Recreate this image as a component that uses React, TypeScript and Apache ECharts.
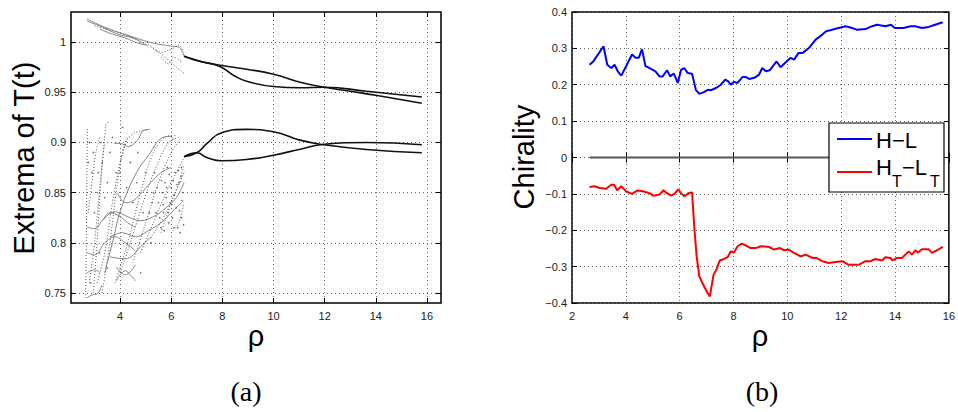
import React, { useEffect, useRef } from "react";
import * as echarts from "echarts";

// ---------- Panel (a): extrema of T(t) ----------
const aXTicks = [4, 6, 8, 10, 12, 14, 16];
const aYTicks = [0.75, 0.8, 0.85, 0.9, 0.95, 1];

// smooth branches (rho > 6.5)
const upperA: number[][] = [[6.5, 0.986], [7.1, 0.981], [7.9, 0.977], [8.95, 0.973], [10, 0.968], [11.04, 0.96], [12, 0.955], [13, 0.951], [14, 0.947], [15.8, 0.939]];
const upperB: number[][] = [[6.5, 0.986], [7.13, 0.981], [7.9, 0.9757], [8.5, 0.966], [8.95, 0.961], [10, 0.9557], [11.04, 0.9545], [12, 0.955], [13.64, 0.951], [15.8, 0.9453]];
const lowerC: number[][] = [[6.5, 0.8857], [7.0, 0.8897], [7.4, 0.899], [7.97, 0.9097], [8.95, 0.913], [10, 0.9107], [11.04, 0.9023], [11.9, 0.898], [13.64, 0.893], [15.8, 0.8897]];
const lowerD: number[][] = [[6.5, 0.8857], [7.0, 0.8897], [7.39, 0.885], [7.97, 0.8817], [8.95, 0.883], [10, 0.8873], [11.04, 0.8933], [11.9, 0.898], [13.64, 0.9], [15.8, 0.8977]];

// chaotic region (rho < 6.5), traced faint curves
const cloudSolid: number[][][] = [
  [[3.77, 0.899], [4.0, 0.899], [4.31, 0.896], [4.7, 0.903], [4.9, 0.912], [5.16, 0.913]],
  [[3.4, 0.77], [3.7, 0.8], [4.05, 0.835], [4.64, 0.87], [5.16, 0.889], [5.55, 0.903], [5.94, 0.906], [6.1, 0.903]],
  [[2.7, 0.816], [3.0, 0.814], [3.3, 0.822], [3.6, 0.83], [4.0, 0.826], [4.4, 0.818], [4.6, 0.816]],
  [[2.7, 0.79], [3.0, 0.788], [3.4, 0.8], [3.8, 0.806], [4.2, 0.8], [4.6, 0.792]],
  [[3.3, 0.822], [3.8, 0.831], [4.3, 0.826], [4.8, 0.822], [5.3, 0.826], [5.8, 0.835], [6.2, 0.845], [6.5, 0.86]],
  [[3.6, 0.806], [4.1, 0.81], [4.6, 0.806], [5.1, 0.812], [5.6, 0.82], [6.0, 0.83], [6.4, 0.84]],
  [[3.9, 0.85], [4.2, 0.84], [4.45, 0.841], [4.77, 0.848], [5.2, 0.86], [5.6, 0.87], [6.0, 0.875]],
  [[3.85, 0.762], [4.0, 0.768], [4.2, 0.772], [4.4, 0.768], [4.6, 0.762]],
  [[3.85, 0.776], [4.2, 0.768], [4.6, 0.778]],
  [[2.7, 0.745], [2.9, 0.748], [3.1, 0.749], [3.3, 0.758]],
  [[2.7, 0.77], [3.0, 0.773], [3.2, 0.77]],
  [[3.6, 0.786], [4.2, 0.784], [4.8, 0.796], [5.2, 0.806]],
  [[2.7, 1.023], [3.2, 1.017], [3.8, 1.011], [4.4, 1.006], [5.0, 1.001], [5.5, 0.998], [6.0, 0.996], [6.3, 0.995], [6.5, 0.986]],
  [[2.7, 1.021], [3.3, 1.015], [3.9, 1.008], [4.5, 1.004], [4.9, 0.999], [5.1, 0.996]],
  [[3.2, 1.013], [3.7, 1.008], [4.2, 1.004], [4.7, 0.999], [5.0, 0.997]],
];
const cloudDotted: number[][][] = [
  [[2.65, 0.745], [2.68, 0.8], [2.7, 0.86], [2.72, 0.915]],
  [[2.95, 0.75], [3.1, 0.8], [3.25, 0.86], [3.45, 0.918], [3.55, 0.92]],
  [[3.3, 0.75], [3.6, 0.8], [3.9, 0.86], [4.2, 0.9], [4.6, 0.91], [5.1, 0.912]],
  [[3.8, 0.76], [4.3, 0.8], [4.8, 0.85], [5.3, 0.89], [5.8, 0.906], [6.2, 0.907]],
  [[4.5, 0.78], [5.0, 0.82], [5.5, 0.86], [6.0, 0.89], [6.4, 0.905]],
  [[5.2, 0.805], [5.8, 0.83], [6.5, 0.87]],
  [[6.0, 0.81], [6.3, 0.82], [6.5, 0.84]],
  [[2.8, 0.76], [3.0, 0.8], [3.15, 0.84], [3.3, 0.88], [3.4, 0.9]],
  [[3.1, 0.76], [3.4, 0.79], [3.7, 0.84], [4.0, 0.88], [4.3, 0.905]],
  [[4.0, 0.77], [4.4, 0.8], [4.9, 0.84], [5.4, 0.875], [5.9, 0.9], [6.3, 0.905]],
  [[4.8, 0.79], [5.3, 0.82], [5.8, 0.85], [6.2, 0.87], [6.5, 0.885]],
  [[5.6, 0.81], [6.0, 0.84], [6.3, 0.86], [6.5, 0.878]],
  [[2.75, 0.83], [2.9, 0.86], [3.05, 0.89], [3.2, 0.905]],
  [[5.0, 1.0], [5.4, 0.992], [5.8, 0.984], [6.2, 0.975], [6.5, 0.969]],
  [[5.2, 0.995], [5.6, 0.99], [6.0, 0.993], [6.3, 0.997], [6.5, 0.99]],
  [[5.6, 0.985], [5.9, 0.978], [6.1, 0.985], [6.4, 0.98]],
  [[3.0, 1.016], [3.6, 1.012], [4.2, 1.007], [4.8, 1.001]],
];
const cloudDots: number[][] = [
  [5.6, 0.815], [5.7, 0.83], [5.8, 0.845], [5.9, 0.82], [6.0, 0.855], [6.1, 0.815], [6.2, 0.835], [6.3, 0.86],
  [6.4, 0.825], [6.45, 0.85], [5.75, 0.86], [5.95, 0.84], [6.15, 0.87], [6.35, 0.81], [5.5, 0.84], [5.65, 0.85],
  [6.05, 0.825], [6.25, 0.815], [6.4, 0.875], [5.85, 0.875], [3.0, 0.83], [3.1, 0.85], [2.9, 0.87], [3.5, 0.86],
  [3.3, 0.88], [4.4, 0.88], [4.7, 0.89], [5.3, 0.85], [5.0, 0.87], [4.0, 0.87], [2.8, 0.9], [3.6, 0.89],
  [4.9, 0.83], [4.5, 0.84], [5.4, 0.83], [5.2, 0.8], [3.2, 0.79], [3.5, 0.775], [4.8, 0.77], [2.85, 0.76],
  [5.55, 0.825], [5.62, 0.862], [5.72, 0.812], [5.82, 0.855], [5.92, 0.868], [6.02, 0.838], [6.12, 0.848], [6.22, 0.858],
  [6.32, 0.832], [6.42, 0.842], [6.48, 0.818], [5.68, 0.838], [5.88, 0.83], [6.08, 0.862], [6.28, 0.872], [6.38, 0.866],
  [5.45, 0.855], [5.35, 0.87], [5.25, 0.84], [5.15, 0.83], [4.65, 0.86], [4.25, 0.855], [3.85, 0.87], [3.4, 0.845],
  [3.15, 0.87], [2.95, 0.89], [3.7, 0.905], [4.1, 0.915], [2.75, 0.88], [3.25, 0.9],
];

// ---------- Panel (b): chirality ----------
const hlPoints: number[][] = [
  [2.65, 0.255], [2.78, 0.263], [3.17, 0.306], [3.31, 0.255], [3.46, 0.246], [3.58, 0.255], [3.7, 0.237], [3.83, 0.225],
  [4.01, 0.251], [4.23, 0.283], [4.36, 0.274], [4.48, 0.274], [4.6, 0.298], [4.73, 0.251], [4.88, 0.246], [5.1, 0.237],
  [5.25, 0.223], [5.37, 0.223], [5.53, 0.24], [5.65, 0.223], [5.78, 0.231], [5.93, 0.205], [6.05, 0.241], [6.17, 0.246],
  [6.3, 0.232], [6.46, 0.23], [6.6, 0.186], [6.73, 0.175], [6.88, 0.179], [7.04, 0.186], [7.16, 0.185], [7.35, 0.191],
  [7.53, 0.2], [7.69, 0.214], [7.81, 0.209], [7.9, 0.2], [8.02, 0.208], [8.15, 0.205], [8.33, 0.221], [8.46, 0.221],
  [8.58, 0.216], [8.77, 0.219], [8.95, 0.228], [9.07, 0.246], [9.2, 0.237], [9.35, 0.24], [9.6, 0.264], [9.75, 0.248],
  [9.91, 0.26], [10.12, 0.274], [10.25, 0.269], [10.41, 0.287], [10.56, 0.287], [10.8, 0.301], [11.05, 0.324], [11.3, 0.338],
  [11.44, 0.347], [11.6, 0.35], [11.79, 0.354], [12.16, 0.361], [12.41, 0.356], [12.59, 0.351], [12.9, 0.353], [13.15, 0.361],
  [13.33, 0.365], [13.64, 0.361], [13.85, 0.365], [13.99, 0.356], [14.32, 0.356], [14.57, 0.361], [14.75, 0.361], [15.0, 0.356],
  [15.25, 0.359], [15.49, 0.365], [15.77, 0.372],
];
const htltPoints: number[][] = [
  [2.65, -0.081], [2.84, -0.079], [3.02, -0.084], [3.27, -0.086], [3.46, -0.075], [3.56, -0.075], [3.68, -0.09], [3.83, -0.079],
  [4.01, -0.093], [4.23, -0.1], [4.42, -0.091], [4.63, -0.093], [4.88, -0.098], [5.02, -0.105], [5.25, -0.102], [5.4, -0.09],
  [5.49, -0.096], [5.68, -0.105], [5.8, -0.1], [5.95, -0.088], [6.05, -0.098], [6.17, -0.107], [6.33, -0.098], [6.46, -0.096],
  [6.54, -0.189], [6.63, -0.272], [6.73, -0.327], [6.89, -0.352], [7.04, -0.373], [7.12, -0.382], [7.26, -0.322], [7.37, -0.307],
  [7.49, -0.283], [7.65, -0.279], [7.78, -0.274], [7.9, -0.258], [8.02, -0.261], [8.15, -0.244], [8.31, -0.237], [8.46, -0.242],
  [8.64, -0.249], [8.83, -0.249], [9.01, -0.244], [9.32, -0.246], [9.51, -0.253], [9.73, -0.249], [9.88, -0.255], [10.04, -0.253],
  [10.25, -0.262], [10.49, -0.272], [10.68, -0.267], [10.93, -0.276], [11.07, -0.276], [11.3, -0.285], [11.54, -0.29], [11.79, -0.287],
  [12.04, -0.285], [12.28, -0.295], [12.65, -0.295], [12.9, -0.285], [13.09, -0.285], [13.27, -0.279], [13.52, -0.283], [13.64, -0.274],
  [13.83, -0.276], [13.9, -0.283], [14.07, -0.276], [14.26, -0.276], [14.51, -0.258], [14.63, -0.267], [14.75, -0.255], [14.85, -0.261],
  [15.0, -0.252], [15.25, -0.252], [15.37, -0.262], [15.56, -0.255], [15.77, -0.246],
];
const zeroLine: number[][] = [[2.65, 0], [15.8, 0]];

const FONT = "Liberation Sans";
const gridLine = { show: true, lineStyle: { color: "#666", type: [1, 3] as any, width: 1 } };
const tickIn = { show: true, inside: true, length: 5, lineStyle: { color: "#000", width: 1 } };
const lbl = { color: "#222", fontSize: 11, fontFamily: FONT };

function fmtA(v: number) {
  return String(Number(v.toFixed(2)));
}

export default function App() {
  const ref = useRef<HTMLDivElement>(null);
  useEffect(() => {
    const chart = echarts.init(ref.current!, undefined, { renderer: "svg" });
    const series: any[] = [];
    cloudSolid.forEach((c) =>
      series.push({ type: "line", xAxisIndex: 0, yAxisIndex: 0, data: c, smooth: 0.4, showSymbol: false, lineStyle: { color: "#6a6a6a", width: 0.8 }, silent: true })
    );
    cloudDotted.forEach((c) =>
      series.push({ type: "line", xAxisIndex: 0, yAxisIndex: 0, data: c, smooth: 0.3, showSymbol: false, lineStyle: { color: "#555", width: 1, type: [1, 2] }, silent: true })
    );
    series.push({ type: "scatter", xAxisIndex: 0, yAxisIndex: 0, data: cloudDots, symbolSize: 1.6, itemStyle: { color: "#444" }, silent: true });
    [upperA, upperB, lowerC, lowerD].forEach((c) =>
      series.push({ type: "line", xAxisIndex: 0, yAxisIndex: 0, data: c, smooth: 0.5, showSymbol: false, lineStyle: { color: "#111", width: 1.6 }, silent: true })
    );
    series.push({ type: "line", name: "zero", xAxisIndex: 2, yAxisIndex: 2, data: zeroLine, showSymbol: false, lineStyle: { color: "#555", width: 2 }, silent: true });
    series.push({ type: "line", name: "H−L", xAxisIndex: 2, yAxisIndex: 2, data: hlPoints, showSymbol: false, lineStyle: { color: "#0000ff", width: 2 } });
    series.push({ type: "line", name: "HT−LT", xAxisIndex: 2, yAxisIndex: 2, data: htltPoints, showSymbol: false, lineStyle: { color: "#ff0000", width: 2 } });

    const gridA = { left: 71, top: 12, width: 370, height: 291 };
    const gridB = { left: 572, top: 12, width: 378, height: 291 };

    const legX = 829, legY = 123;
    chart.setOption({
      animation: false,
      backgroundColor: "#fff",
      grid: [
        { ...gridA, show: true, borderColor: "#000", borderWidth: 1.5, backgroundColor: "transparent" },
        { ...gridB, show: true, borderColor: "#000", borderWidth: 1.5, backgroundColor: "transparent" },
      ],
      xAxis: [
        { type: "value", gridIndex: 0, min: 2.08, max: 16.55, axisLine: { show: false }, axisTick: { ...tickIn, customValues: aXTicks }, axisLabel: { ...lbl, margin: 7, customValues: aXTicks }, splitLine: gridLine },
        { type: "value", gridIndex: 0, position: "top", min: 2.08, max: 16.55, axisLine: { show: false }, axisTick: { ...tickIn, customValues: aXTicks }, axisLabel: { show: false }, splitLine: { show: false } },
        { type: "value", gridIndex: 1, min: 2, max: 16, interval: 2, axisLine: { show: false }, axisTick: tickIn, axisLabel: { ...lbl, margin: 7 }, splitLine: gridLine },
        { type: "value", gridIndex: 1, position: "top", min: 2, max: 16, interval: 2, axisLine: { show: false }, axisTick: tickIn, axisLabel: { show: false }, splitLine: { show: false } },
      ],
      yAxis: [
        { type: "value", gridIndex: 0, min: 0.74, max: 1.03, axisLine: { show: false }, axisTick: { ...tickIn, customValues: aYTicks }, axisLabel: { ...lbl, margin: 5, customValues: aYTicks, formatter: fmtA }, splitLine: gridLine },
        { type: "value", gridIndex: 0, position: "right", min: 0.74, max: 1.03, axisLine: { show: false }, axisTick: { ...tickIn, customValues: aYTicks }, axisLabel: { show: false }, splitLine: { show: false } },
        { type: "value", gridIndex: 1, min: -0.4, max: 0.4, interval: 0.1, axisLine: { show: false }, axisTick: tickIn, axisLabel: { ...lbl, margin: 5, formatter: (v: number) => (Math.abs(v) < 1e-9 ? "0" : String(Number(v.toFixed(1))).replace("-", "\u2212")) }, splitLine: gridLine },
        { type: "value", gridIndex: 1, position: "right", min: -0.4, max: 0.4, interval: 0.1, axisLine: { show: false }, axisTick: tickIn, axisLabel: { show: false }, splitLine: { show: false } },
      ],
      series,
      graphic: [
        { type: "text", x: 24, y: 158, rotation: Math.PI / 2, style: { text: "Extrema of T(t)", fontSize: 29, fontFamily: FONT, fill: "#000", align: "center", verticalAlign: "middle" } },
        { type: "text", x: 256, y: 336, style: { text: "ρ", fontSize: 29, fontFamily: FONT, fill: "#000", align: "center", verticalAlign: "middle" } },
        { type: "text", x: 246, y: 391, style: { text: "(a)", fontSize: 28, fontFamily: "Liberation Serif", fill: "#000", align: "center", verticalAlign: "middle" } },
        { type: "text", x: 524, y: 157, rotation: Math.PI / 2, style: { text: "Chirality", fontSize: 29, fontFamily: FONT, fill: "#000", align: "center", verticalAlign: "middle" } },
        { type: "text", x: 760, y: 336, style: { text: "ρ", fontSize: 29, fontFamily: FONT, fill: "#000", align: "center", verticalAlign: "middle" } },
        { type: "text", x: 762, y: 391, style: { text: "(b)", fontSize: 28, fontFamily: "Liberation Serif", fill: "#000", align: "center", verticalAlign: "middle" } },
        // legend
        { type: "rect", shape: { x: legX, y: legY, width: 115, height: 69 }, style: { fill: "#fff", stroke: "#000", lineWidth: 1.2 }, z: 100 },
        { type: "line", shape: { x1: 837, y1: 139, x2: 872, y2: 139 }, style: { stroke: "#0000ff", lineWidth: 2 }, z: 101 },
        { type: "line", shape: { x1: 837, y1: 172, x2: 872, y2: 172 }, style: { stroke: "#ff0000", lineWidth: 2 }, z: 101 },
        { type: "text", x: 876, y: 140, style: { text: "H\u2212L", fontSize: 22, fontFamily: FONT, fill: "#000", align: "left", verticalAlign: "middle" }, z: 101 },
        { type: "text", x: 876, y: 167, style: { text: "H", fontSize: 22, fontFamily: FONT, fill: "#000", align: "left", verticalAlign: "middle" }, z: 101 },
        { type: "text", x: 892, y: 181, style: { text: "T", fontSize: 16, fontFamily: FONT, fill: "#000", align: "left", verticalAlign: "middle" }, z: 101 },
        { type: "text", x: 902, y: 167, style: { text: "\u2212L", fontSize: 22, fontFamily: FONT, fill: "#000", align: "left", verticalAlign: "middle" }, z: 101 },
        { type: "text", x: 930, y: 181, style: { text: "T", fontSize: 16, fontFamily: FONT, fill: "#000", align: "left", verticalAlign: "middle" }, z: 101 },
      ],
    });
    return () => chart.dispose();
  }, []);
  return <div ref={ref} style={{ position: "fixed", left: 0, top: 0, width: 958, height: 412, background: "#fff" }} />;
}
